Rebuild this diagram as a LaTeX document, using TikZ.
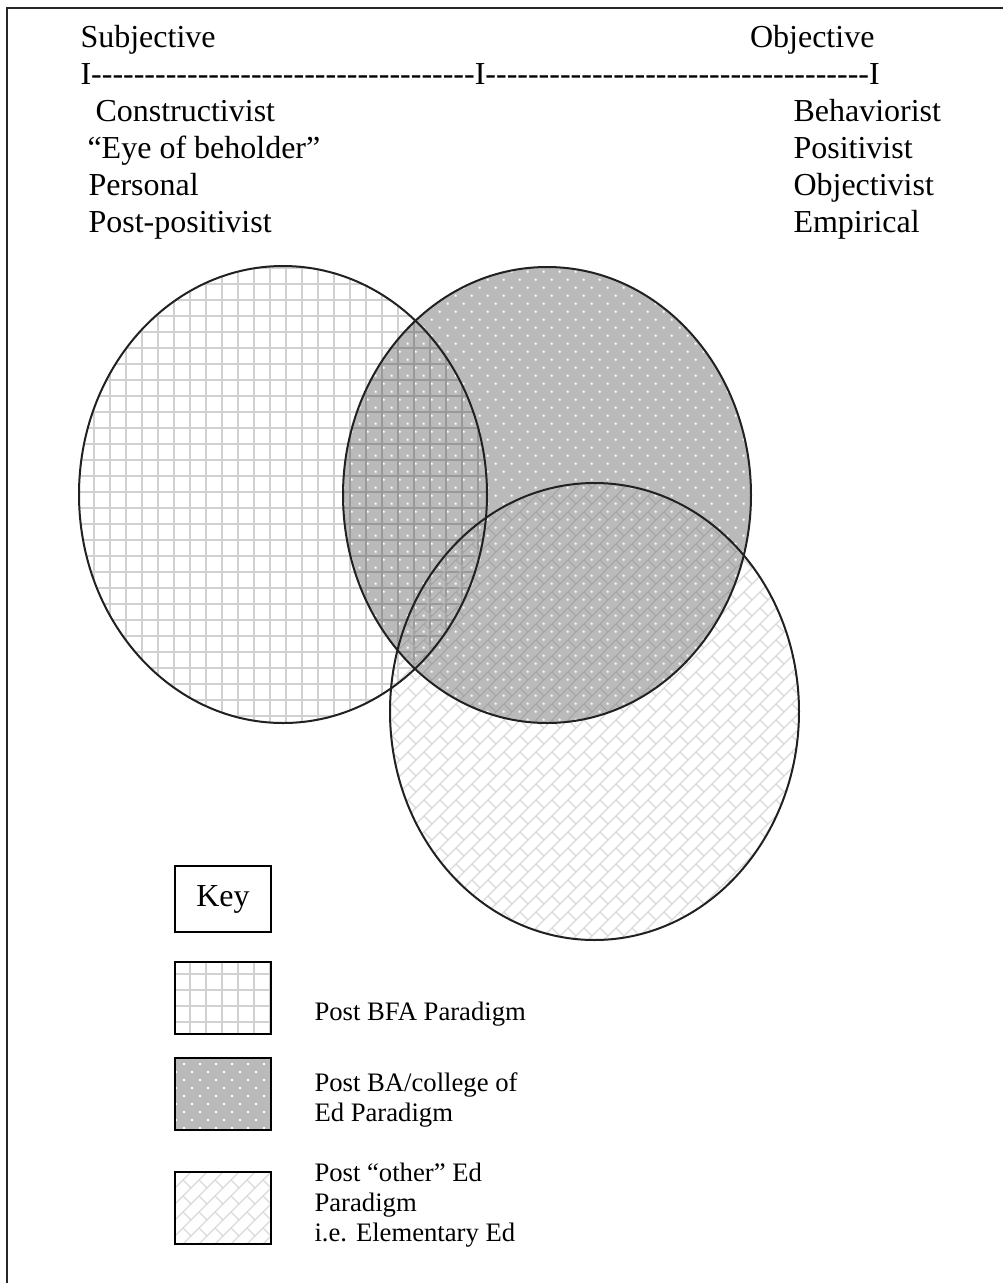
\documentclass[tikz,border=0pt]{standalone}
\usepackage{fontspec}
\setmainfont{Liberation Serif}
\definecolor{gfill}{gray}{0.73}
\definecolor{plight}{gray}{0.82}
\definecolor{pdark}{gray}{0.6}
\definecolor{dlight}{gray}{0.85}
\definecolor{ddark}{gray}{0.63}
\definecolor{outl}{gray}{0.13}
\newcommand\gridpat[5]{%
  \draw[#1,line width=0.75pt] \foreach \i in {0,...,#3} {(#2+16*\i,#4) -- (#2+16*\i,#4+16*#5)}
     \foreach \j in {0,...,#5} {(#2,#4+16*\j) -- (#2+16*#3,#4+16*\j)};}
\newcommand\dotpat[4]{%
  \fill[white] \foreach \i in {0,...,#2} { \foreach \j in {0,...,#4} {
     (#1+16*\i-1,#3+16*\j-1) rectangle ++(2,2)
     (#1+16*\i+7,#3+16*\j+7) rectangle ++(2,2) } };}
\newcommand\diagpat[5]{%
  \draw[#1,line width=0.45pt] \foreach \i in {0,...,#3} { \foreach \j in {0,...,#5} {
     (#2+16*\i,#4+16*\j+16) -- ++(16,-16)
     (#2+16*\i+8,#4+16*\j+8) -- ++(8,8) } };}
\newcommand\dashrun[1]{\foreach \i in {1,...,#1}{-\kern0pt}}
\begin{document}
\begin{tikzpicture}[x=0.375pt,y=-0.375pt,
  big/.style={inner sep=0,font=\fontsize{12}{14}\selectfont},
  small/.style={inner sep=0,anchor=base west,font=\fontsize{10}{11.5}\selectfont},
  keybox/.style={draw=black,line width=0.65pt,minimum width=36pt,minimum height=27pt,inner sep=0},
  outline/.style={draw=outl,line width=0.75pt}]
\useasboundingbox (0,0) rectangle (1003,1283);
% frame
\draw[line width=0.75pt,black!85] (6.7,1300) -- (6.7,8) -- (1015,8);
% top texts
\node[big,anchor=base west] (subj) at (80,47) {Subjective};
\node[big,anchor=base east] (obj) at (875,47) {Objective};
\node[big,anchor=base west] (scale) at (80,84) {I\dashrun{36}I\dashrun{36}I};
\node[big,anchor=base west] (l1) at (95,121) {Constructivist};
\node[big,anchor=base west] (l2) at (87,158) {“Eye of beholder”};
\node[big,anchor=base west] (l3) at (88,195) {Personal};
\node[big,anchor=base west] (l4) at (88,232) {Post-positivist};
\node[big,anchor=base west] (r1) at (793,121) {Behaviorist};
\node[big,anchor=base west] (r2) at (793,158) {Positivist};
\node[big,anchor=base west] (r3) at (793,195) {Objectivist};
\node[big,anchor=base west] (r4) at (793,232) {Empirical};
% middle ellipse: gray with dots
\begin{scope}
  \clip (547,495) ellipse [x radius=204, y radius=228];
  \fill[gfill] (340,260) rectangle (760,730);
  \dotpat{327.7}{27}{247.7}{30}
\end{scope}
% left ellipse grid
\begin{scope}
  \clip (283,494.5) ellipse [x radius=204, y radius=228.5];
  \gridpat{plight}{77.7}{26}{252}{30}
\end{scope}
\begin{scope}
  \clip (283,494.5) ellipse [x radius=204, y radius=228.5];
  \clip (547,495) ellipse [x radius=204, y radius=228];
  \gridpat{pdark}{77.7}{26}{252}{30}
\end{scope}
% bottom ellipse diagonal brick
\begin{scope}
  \clip (594.5,711.5) ellipse [x radius=204.5, y radius=228.5];
  \diagpat{dlight}{384}{26}{472}{29}
\end{scope}
\begin{scope}
  \clip (594.5,711.5) ellipse [x radius=204.5, y radius=228.5];
  \clip (547,495) ellipse [x radius=204, y radius=228];
  \diagpat{ddark}{384}{26}{472}{29}
\end{scope}
% outlines
\draw[outline] (283,494.5) ellipse [x radius=204, y radius=228.5];
\draw[outline] (547,495) ellipse [x radius=204, y radius=228];
\draw[outline] (594.5,711.5) ellipse [x radius=204.5, y radius=228.5];
% legend
\node[keybox,minimum height=24.75pt,font=\fontsize{12}{14}\selectfont] (key) at (223,899) {Key};
\begin{scope}
  \clip (175,962) rectangle (271,1034);
  \gridpat{plight}{174}{6}{958}{5}
\end{scope}
\node[keybox] (kbfa) at (223,998) {};
\begin{scope}
  \clip (175,1058) rectangle (271,1130);
  \fill[gfill] (175,1058) rectangle (271,1130);
  \dotpat{168}{7}{1048}{6}
\end{scope}
\node[keybox] (kba) at (223,1094) {};
\begin{scope}
  \clip (175,1172) rectangle (271,1244);
  \diagpat{dlight}{175}{6}{1172}{5}
\end{scope}
\node[keybox] (koth) at (223,1208) {};
\node[small] (t1) at (314,1020) {Post BFA Paradigm};
\node[small] (t2) at (314,1091) {Post BA/college of};
\node[small] (t3) at (314,1121) {Ed Paradigm};
\node[small] (t4) at (314,1181) {Post “other” Ed};
\node[small] (t5) at (314,1211) {Paradigm};
\node[small] (t6) at (314,1241) {i.e. Elementary Ed};
\end{tikzpicture}
\end{document}
